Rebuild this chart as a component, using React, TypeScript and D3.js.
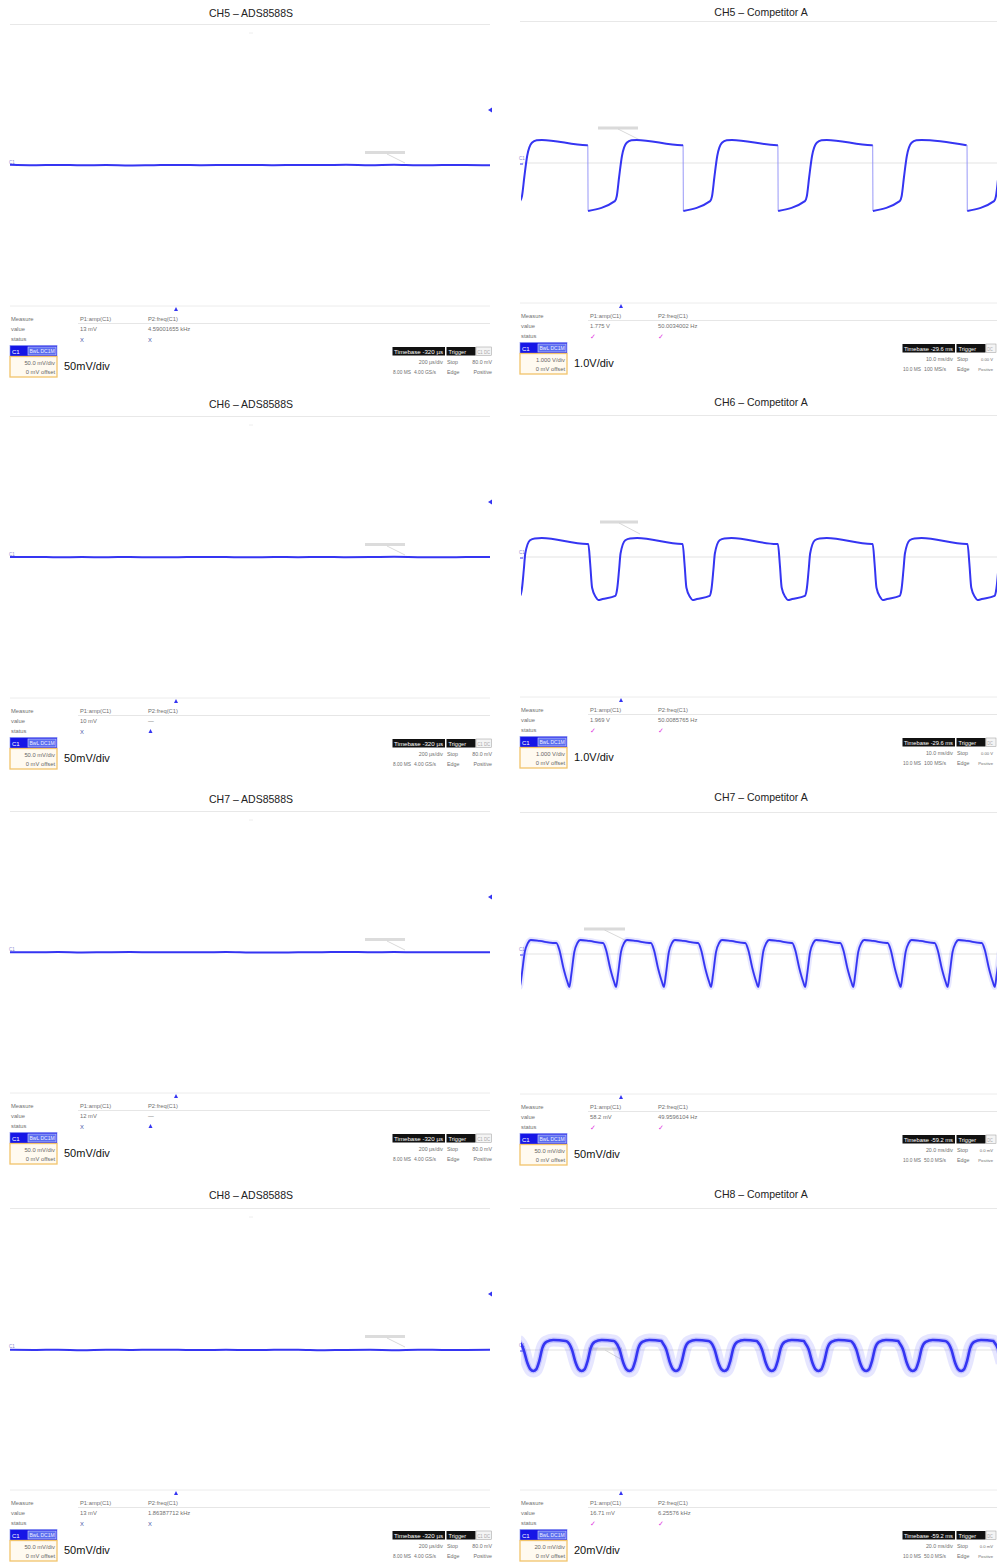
import React from "react";
import * as d3 from "d3";

// ---------------- DATA ----------------
const channels = ["CH5", "CH6", "CH7", "CH8"];
const adsTitle = channels.map((c) => `${c} – ADS8588S`);
const compTitle = channels.map((c) => `${c} – Competitor A`);

const adsVdivLabel = ["50mV/div", "50mV/div", "50mV/div", "50mV/div"];
const adsBadgeScale = ["50.0 mV/div", "50.0 mV/div", "50.0 mV/div", "50.0 mV/div"];
const adsAmp = ["13 mV", "10 mV", "12 mV", "13 mV"];
const adsFreq = ["4.59001655 kHz", "—", "—", "1.86387712 kHz"];
const adsFreqOk = [true, false, false, true];
const adsVdiv = [50, 50, 50, 50]; // mV per division
const adsUsDiv = 200; // µs per division
// trace samples in mV, one every 100 µs across the 2000 µs screen
const adsNoiseMv = [
  [1.8, 1.2, 1.6, 1.0, 1.4, 0.8, 1.2, 1.5, 1.1, 1.4, 1.6, 1.2, 1.5, 1.3, 1.7, 1.2, 1.8, 1.0, 1.3, 1.5, 1.1],
  [1.4, 1.6, 1.0, 1.3, 1.1, 1.5, 0.9, 1.2, 1.6, 1.3, 1.0, 1.4, 1.2, 1.5, 1.1, 1.3, 1.7, 1.2, 1.0, 1.3, 1.4],
  [1.2, 1.0, 1.4, 0.8, 1.1, 1.3, 0.9, 1.2, 1.0, 1.4, 0.8, 0.6, 1.0, 1.2, 1.5, 1.1, 1.3, 1.0, 1.2, 0.9, 1.1],
  [0.2, 0.0, 0.4, -0.2, 0.3, 0.1, 0.5, 0.2, -0.1, 0.3, 0.0, 0.2, 0.4, -0.3, 0.1, 0.2, -0.2, 0.3, 0.1, 0.0, 0.2],
];

const compVdivLabel = ["1.0V/div", "1.0V/div", "50mV/div", "20mV/div"];
const compBadgeScale = ["1.000 V/div", "1.000 V/div", "50.0 mV/div", "20.0 mV/div"];
const compAmp = ["1.775 V", "1.969 V", "58.2 mV", "16.71 mV"];
const compFreq = ["50.0034002 Hz", "50.0085765 Hz", "49.9596104 Hz", "6.25576 kHz"];
const compVdiv = [1, 1, 50, 20]; // V/div for CH5/6, mV/div for CH7/8
const compMsDiv = [10, 10, 20, 20];
const compTimebase = ["-29.6 ms", "-29.6 ms", "-59.2 ms", "-59.2 ms"];
const compTimeDivText = ["10.0 ms/div", "10.0 ms/div", "20.0 ms/div", "20.0 ms/div"];
const compTrigLevel = ["0.00 V", "0.00 V", "0.0 mV", "0.0 mV"];
const compSamples = ["10.0 MS", "10.0 MS", "10.0 MS", "10.0 MS"];
const compRate = ["100 MS/s", "100 MS/s", "50.0 MS/s", "50.0 MS/s"];

// one cycle of each competitor waveform: [ms relative to event, value]
const ch5Cycle: [number, number][] = [
  [0, 0.51], [0.05, -1.37], [5.7, -1.09], [6.1, -0.95], [6.6, -0.4], [7.2, 0.2],
  [8.2, 0.58], [9.2, 0.65], [10.3, 0.66], [19.8, 0.51],
];
const ch5Events = [-5.9, 14.1, 34.2, 54.2, 74.2, 94.1];

const ch6Cycle: [number, number][] = [
  [0, 0.37], [0.4, -0.2], [0.8, -0.88], [1.6, -1.15], [2.1, -1.23], [3.0, -1.2],
  [5.7, -1.11], [6.1, -0.9], [6.5, -0.35], [6.8, 0.1], [7.8, 0.48], [8.8, 0.53],
  [10.3, 0.54], [19.8, 0.37],
];
const ch6Events = [-5.9, 14.2, 34.1, 54.2, 74.2, 94.2];

const ch7Cycle: [number, number][] = [
  [-5.5, 15.7], [-4.2, 5.7], [-2.5, -20], [-0.8, -40], [0, -47], [0.8, -30],
  [2.1, 3], [3.4, 15.7], [4.6, 20], [8.4, 18.6], [14.0, 15.7],
];
const ch7Events = [-0.5, 20.4, 40.1, 60.3, 80.2, 100.1, 119.9, 140.2, 160.2, 180.0, 199.9];

const ch8Cycle: [number, number][] = [
  [-5.9, 4.6], [-4.2, 0.6], [-2.5, -7.4], [-1.3, -10.9], [0, -12], [1.3, -10.9],
  [2.5, -6.3], [3.8, 1.1], [5.5, 4.6], [8.4, 5.7], [13.6, 5.1],
];
const ch8Events = [-14.8, 5.2, 25.6, 45.7, 65.4, 85.8, 105.8, 125.5, 145.6, 165.3, 185.7, 205.5];

const compCycles = [ch5Cycle, ch6Cycle, ch7Cycle, ch8Cycle];
const compEvents = [ch5Events, ch6Events, ch7Events, ch8Events];

// ---------------- LAYOUT ----------------
const W = 997;
const H = 1562;
const leftOffsets = [0, 392, 787, 1184];
const rightOffsets = [-3, 391, 788, 1184];
const leftTitleY = [17, 408, 803, 1199];
const rightTitleY = [16, 406, 801, 1198];
const RIGHT_X = 510;
const FONT = "'Liberation Sans', Arial, Helvetica, sans-serif";
const BLUE = "#3535f2";
const compHalo = [
  { w: 0, o: 0 },
  { w: 0, o: 0 },
  { w: 6, o: 0.16 },
  { w: 13, o: 0.17 },
];
const compAnnot = [
  [88, 128, 131],
  [90, 128, 131],
  [74, 115, 141],
  [78, 112, 165],
];

type InfoProps = {
  amp: string;
  freq: string;
  ok1: boolean;
  ok2: boolean;
  check: boolean;
  badgeScale: string;
  vdivLabel: string;
  timebase: string;
  timeDiv: string;
  trigLevel: string;
  samples: string;
  rate: string;
  trigX: number;
  maxX: number;
};

function Info(p: InfoProps) {
  const small = { fontFamily: FONT, fontSize: 5.8, fill: "#707070" } as const;
  const tiny = { fontFamily: FONT, fontSize: 5.3, fill: "#707070" } as const;
  const status = (ok: boolean, x: number) =>
    p.check ? (
      <text x={x} y={342} style={{ ...small, fill: "#e033e0", fontSize: 6.5 }}>✓</text>
    ) : ok ? (
      <text x={x} y={342} style={{ ...small, fill: "#4a5aa8" }}>X</text>
    ) : (
      <path d={`M${x + 0.5},341 l2,-4 l2,4 z`} fill={BLUE} />
    );
  const endX = Math.min(492, p.maxX);
  const narrow = endX < 490;
  const lastStyle = narrow ? { ...tiny, fontSize: 4.2 } : tiny;
  return (
    <g>
      <path d={`M${p.trigX - 2},${311} l2,-4 l2,4 z`} fill={BLUE} />
      <line x1={10} x2={490} y1={306} y2={306} stroke="#ececec" />
      <text x={11} y={321} style={small}>Measure</text>
      <text x={11} y={331} style={small}>value</text>
      <text x={11} y={341} style={small}>status</text>
      <text x={80} y={321} style={small}>P1:amp(C1)</text>
      <text x={148} y={321} style={small}>P2:freq(C1)</text>
      <line x1={78} x2={490} y1={323.5} y2={323.5} stroke="#e6e6e6" />
      <text x={80} y={331} style={small}>{p.amp}</text>
      <text x={148} y={331} style={small}>{p.freq}</text>
      {status(p.ok1, 80)}
      {status(p.ok2, 148)}
      <rect x={10} y={345.5} width={47} height={11} fill="#1616e6" stroke="#7f8cf0" strokeWidth={0.6} />
      <text x={12} y={353.5} style={{ fontFamily: FONT, fontSize: 6, fill: "#fff" }}>C1</text>
      <rect x={28} y={347} width={28} height={8} fill="#5a6cf0" stroke="#d8dcff" strokeWidth={0.6} />
      <text x={29.5} y={353} style={{ fontFamily: FONT, fontSize: 5, fill: "#eef" }}>BwL DC1M</text>
      <rect x={10} y={356.5} width={47} height={20.5} fill="#fffaf0" stroke="#f2c46a" strokeWidth={1.3} />
      <text x={55} y={365} textAnchor="end" style={{ ...small, fill: "#666" }}>{p.badgeScale}</text>
      <text x={55} y={374} textAnchor="end" style={{ ...small, fill: "#666" }}>0 mV offset</text>
      <text x={64} y={370} style={{ fontFamily: FONT, fontSize: 11, fill: "#111" }}>{p.vdivLabel}</text>
      <rect x={392.5} y={347} width={52.5} height={8.5} fill="#111" />
      <text x={394} y={353.5} textLength={49} lengthAdjust="spacingAndGlyphs" style={{ fontFamily: FONT, fontSize: 5.6, fill: "#fff" }}>
        {`Timebase ${p.timebase}`}
      </text>
      <rect x={446.5} y={347} width={29} height={8.5} fill="#111" />
      <text x={448.5} y={353.5} style={{ fontFamily: FONT, fontSize: 5.6, fill: "#fff" }}>Trigger</text>
      <rect x={476} y={347} width={Math.min(15.5, endX + 3 - 476)} height={8.5} fill="#f4f4f4" stroke="#999" strokeWidth={0.5} />
      <text x={477.2} y={353.5} textLength={narrow ? 5.5 : 13} lengthAdjust="spacingAndGlyphs" style={{ fontFamily: FONT, fontSize: 5, fill: "#aaa" }}>
        {narrow ? "DC" : "C1 DC"}
      </text>
      <text x={443} y={364} textAnchor="end" style={tiny}>{p.timeDiv}</text>
      <text x={447} y={364} style={tiny}>Stop</text>
      <text x={endX} y={364} textAnchor="end" style={lastStyle}>{p.trigLevel}</text>
      <text x={393} y={374} textLength={18} lengthAdjust="spacingAndGlyphs" style={tiny}>{p.samples}</text>
      <text x={414} y={374} textLength={22} lengthAdjust="spacingAndGlyphs" style={tiny}>{p.rate}</text>
      <text x={447} y={374} style={tiny}>Edge</text>
      <text x={endX} y={374} textAnchor="end" style={lastStyle}>Positive</text>
    </g>
  );
}

function AdsPanel({ i }: { i: number }) {
  const sy = leftOffsets[i];
  const cy = 166;
  const x = d3.scaleLinear().domain([0, 10 * adsUsDiv]).range([10, 490]);
  const y = d3.scaleLinear().domain([-4 * adsVdiv[i], 4 * adsVdiv[i]]).range([cy + 140, cy - 140]);
  const pts: [number, number][] = adsNoiseMv[i].map((v, k) => [k * 100, v]);
  const gen = d3
    .line<[number, number]>()
    .x((d) => x(d[0]))
    .y((d) => y(d[1]))
    .curve(d3.curveMonotoneX);
  const trigY = y(80);
  return (
    <g transform={`translate(0,${sy})`}>
      <line x1={10} x2={490} y1={24.5} y2={24.5} stroke="#e8e8e8" />
      <line x1={249} x2={253} y1={33} y2={33} stroke="#eee" />
      <rect x={365} y={151} width={40} height={3} fill="#dcdcdc" />
      <line x1={387} y1={154} x2={405} y2={163} stroke="#cfcfcf" strokeWidth={0.8} />
      <text x={9} y={cy - 2} style={{ fontFamily: FONT, fontSize: 4.5, fill: "#8a8ad0" }}>C1</text>
      <path d={gen(pts) || ""} fill="none" stroke={BLUE} strokeWidth={2} />
      <path d={`M488,${trigY} l4,-2.5 l0,5 z`} fill={BLUE} />
      <Info
        amp={adsAmp[i]}
        freq={adsFreq[i]}
        ok1={true}
        ok2={adsFreqOk[i]}
        check={false}
        badgeScale={adsBadgeScale[i]}
        vdivLabel={adsVdivLabel[i]}
        timebase="-320 µs"
        timeDiv="200 µs/div"
        trigLevel="80.0 mV"
        samples="8.00 MS"
        rate="4.00 GS/s"
        trigX={176}
        maxX={492}
      />
    </g>
  );
}

function CompPanel({ i }: { i: number }) {
  const sy = rightOffsets[i];
  const cy = 166;
  const x = d3.scaleLinear().domain([0, 10 * compMsDiv[i]]).range([11, 485]);
  const y = d3.scaleLinear().domain([-4 * compVdiv[i], 4 * compVdiv[i]]).range([cy + 140, cy - 140]);
  const tMax = 10 * compMsDiv[i];
  const ev = compEvents[i];
  const cyc = compCycles[i];
  const lead = cyc[0][0];
  const pts: [number, number][] = ev
    .flatMap((te, k) => {
      const next = k + 1 < ev.length ? ev[k + 1] + lead : Infinity;
      return cyc
        .map(([dt, v]) => [te + dt, v] as [number, number])
        .filter((p) => p[0] < next);
    })
    .filter((d) => d[0] >= -3 && d[0] <= tMax + 3);
  const runs: [number, number][][] = [[]];
  const edges: [[number, number], [number, number]][] = [];
  pts.forEach((p, k) => {
    const prev = pts[k - 1];
    if (prev && p[0] - prev[0] < 0.1) {
      edges.push([prev, p]);
      runs.push([]);
    }
    runs[runs.length - 1].push(p);
  });
  const gen = d3
    .line<[number, number]>()
    .x((d) => x(d[0]))
    .y((d) => y(d[1]))
    .curve(d3.curveMonotoneX);
  const d = runs.map((r) => gen(r) || "").join(" ");
  const clipId = `clip-comp-${i}`;
  const [a1, a2, ay] = compAnnot[i];
  const mainW = i === 3 ? 2.6 : i === 2 ? 1.8 : 2;
  return (
    <g transform={`translate(${RIGHT_X},${sy})`}>
      <defs>
        <clipPath id={clipId}>
          <rect x={11} y={26} width={480} height={280} />
        </clipPath>
      </defs>
      <line x1={10} x2={490} y1={24.5} y2={24.5} stroke="#e8e8e8" />
      <line x1={12} x2={490} y1={cy} y2={cy} stroke="#dcdcdc" strokeWidth={0.8} />
      <rect x={a1} y={ay - 1.5} width={a2 - a1} height={3} fill="#dadada" />
      <line x1={(a1 + a2) / 2} y1={ay + 1} x2={a2 + 2} y2={ay + 12} stroke="#cfcfcf" strokeWidth={0.8} />
      <text x={9} y={cy - 3} style={{ fontFamily: FONT, fontSize: 4.5, fill: "#8a8ad0" }}>C1</text>
      <line x1={10} x2={13} y1={cy + 1} y2={cy + 1} stroke={BLUE} strokeWidth={1} />
      <g clipPath={`url(#${clipId})`}>
        {compHalo[i].w > 0 && (
          <>
            <path d={d} fill="none" stroke="#6a6aff" strokeOpacity={compHalo[i].o} strokeWidth={compHalo[i].w} strokeLinejoin="round" />
            <path d={d} fill="none" stroke="#5a5aff" strokeOpacity={0.25} strokeWidth={compHalo[i].w * 0.4} strokeLinejoin="round" />
          </>
        )}
        {edges.map(([p0, p1], k) => (
          <line key={k} x1={x(p0[0])} y1={y(p0[1])} x2={x(p1[0])} y2={y(p1[1])} stroke="#8c8cf6" strokeWidth={0.9} />
        ))}
        <path d={d} fill="none" stroke={BLUE} strokeWidth={mainW} strokeLinejoin="round" />
      </g>
      <Info
        amp={compAmp[i]}
        freq={compFreq[i]}
        ok1={true}
        ok2={true}
        check={true}
        badgeScale={compBadgeScale[i]}
        vdivLabel={compVdivLabel[i]}
        timebase={compTimebase[i]}
        timeDiv={compTimeDivText[i]}
        trigLevel={compTrigLevel[i]}
        samples={compSamples[i]}
        rate={compRate[i]}
        trigX={111}
        maxX={W - RIGHT_X - 4}
      />
    </g>
  );
}

export default function App() {
  return (
    <div style={{ position: "absolute", left: 0, top: 0, width: W, height: H, background: "#fff" }}>
      <svg width={W} height={H} viewBox={`0 0 ${W} ${H}`} style={{ display: "block" }}>
        <rect width={W} height={H} fill="#fff" />
        {channels.map((c, i) => (
          <g key={c}>
            <text x={251} y={leftTitleY[i]} textAnchor="middle" style={{ fontFamily: FONT, fontSize: 10.5, fill: "#222" }}>
              {adsTitle[i]}
            </text>
            <text x={761} y={rightTitleY[i]} textAnchor="middle" style={{ fontFamily: FONT, fontSize: 10.5, fill: "#222" }}>
              {compTitle[i]}
            </text>
            <AdsPanel i={i} />
            <CompPanel i={i} />
          </g>
        ))}
      </svg>
    </div>
  );
}
